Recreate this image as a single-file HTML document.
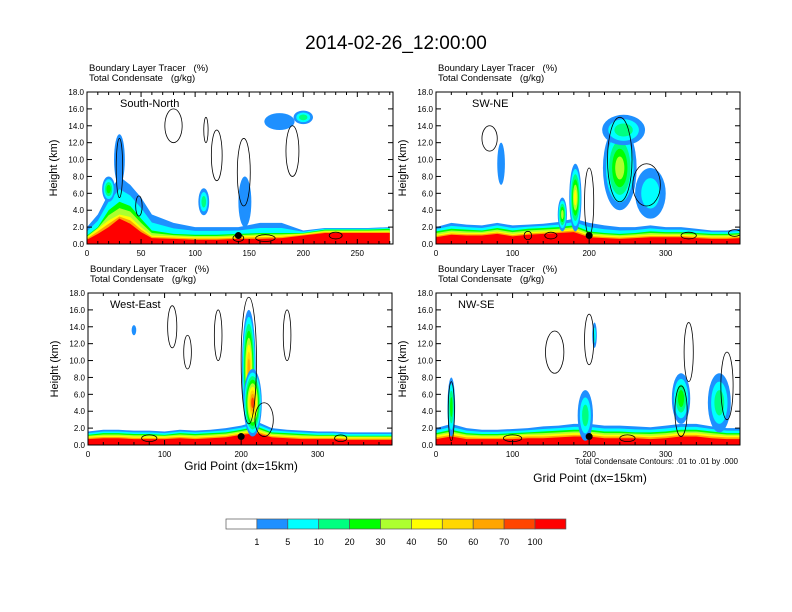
<!DOCTYPE html>
<html><head><meta charset="utf-8"><style>body{margin:0;background:#fff}svg{display:block;font-family:"Liberation Sans",sans-serif}</style></head>
<body>
<svg id="c" width="792" height="612" viewBox="0 0 792 612" xmlns="http://www.w3.org/2000/svg">
<text x="396" y="49" font-size="19" text-anchor="middle">2014-02-26_12:00:00</text>
<text x="241" y="470" font-size="12" text-anchor="middle">Grid Point (dx=15km)</text>
<text x="590" y="482" font-size="12" text-anchor="middle">Grid Point (dx=15km)</text>
<text x="738" y="464" font-size="8" text-anchor="end">Total Condensate Contours: .01 to .01 by .000</text>
</svg>
<script>
const NS="http://www.w3.org/2000/svg";
const svg=document.getElementById('c');
const COLORS=["#ffffff","#1e90ff","#00ffff","#00ff80","#00ff00","#adff2f","#ffff00","#ffd700","#ffa500","#ff4500","#ff0000"];
const LEVEL_LABELS=["1","5","10","20","30","40","50","60","70","100"];
const tlXs=[0,10,20,30,40,50,60,80,100,120,140,160,180,200,220,240,260,280];
const tlBlue=[2,3.5,6,8,7,5.5,3.5,2.5,2,2,2,2.5,2.5,1.6,1.9,1.9,1.9,2];
const tlGreen=[1,2,4,5,4.5,3,1.6,1.2,1.1,1.1,1.2,1.3,1.3,1.3,1.7,1.7,1.7,1.8];
const tlYellow=[0.8,1.8,2.8,3.5,3.2,2,1,0.9,0.8,0.8,0.9,1,1,1.2,1.5,1.5,1.5,1.5];
const tlRed=[0.5,1.2,2,3,2.4,1.4,0.7,0.6,0.5,0.5,0.6,0.6,0.7,1,1.3,1.3,1.3,1.3];
const tlPlumes=[[30,10,5,3,1],[108,5,5,1.6,3],[146,5,6,3,1],[178,14.5,14,1,1],[200,15,9,0.8,3],[20,6.5,6,1.5,4]];
const tlContours=[[80,14,8,2],[120,10.5,5,3],[145,8.5,6,4],[190,11,6,3],[110,13.5,2,1.5],[30,9,3,3.5],[48,4.5,3,1.2],[140,0.7,5,0.4],[165,0.7,9,0.4],[230,1,6,0.4]];
const trXs=[0,20,40,60,80,100,120,140,160,180,200,220,240,260,280,300,320,340,360,380,397];
const trBlue=[2,2.5,2.3,2.2,2.5,2.2,2.3,2.4,2.6,3,2.5,2.2,2,2,2.2,2,2,1.8,1.6,1.6,1.8];
const trGreen=[1.5,1.8,1.7,1.6,1.9,1.6,1.8,1.9,2,2.2,1.5,1.3,1.2,1.3,1.5,1.4,1.4,1.3,1.2,1.2,1.3];
const trYellow=[1.1,1.4,1.3,1.3,1.5,1.2,1.4,1.5,1.6,1.8,1.1,1,0.9,1,1.1,1.1,1.1,1,0.9,0.9,1];
const trRed=[0.8,1.1,1,1,1.2,0.9,1.1,1.2,1.3,1.4,0.8,0.7,0.6,0.7,0.8,0.8,0.8,0.7,0.6,0.6,0.7];
const trPlumes=[[85,9.5,5,2.5,1],[182,5.5,8,4,6],[240,9,22,5,5],[245,13.5,28,1.8,3],[280,6,20,3,2],[165,3.5,6,2,5]];
const trContours=[[70,12.5,10,1.5],[240,10,16,5],[275,7,18,2.5],[200,5,6,4],[150,1,8,0.4],[330,1,10,0.4],[390,1.3,8,0.4],[120,1,5,0.5]];
const blXs=[0,20,40,60,80,100,120,140,160,180,200,220,240,260,280,300,320,340,360,380,397];
const blBlue=[1.6,1.8,1.8,1.7,1.7,1.6,1.8,1.7,1.8,2,2.3,2.8,2,1.8,1.7,1.6,1.6,1.5,1.5,1.5,1.5];
const blGreen=[1.2,1.4,1.4,1.3,1.3,1.2,1.4,1.3,1.4,1.5,1.8,2.2,1.5,1.4,1.3,1.2,1.2,1.1,1.1,1.1,1.1];
const blYellow=[1,1.1,1.1,1,1,1,1.1,1,1.1,1.2,1.5,1.8,1.2,1.1,1,1,1,0.9,0.9,0.9,0.9];
const blRed=[0.7,0.8,0.8,0.7,0.7,0.7,0.8,0.7,0.8,0.9,1.2,1.4,0.9,0.8,0.7,0.7,0.7,0.6,0.6,0.6,0.6];
const blPlumes=[[210,9,9,7,8],[215,5,12,4,9],[60,13.6,3,0.6,1]];
const blContours=[[210,10,10,7.5],[110,14,6,2.5],[130,11,5,2],[170,13,5,3],[260,13,5,3],[230,3,12,2],[80,0.8,10,0.4],[330,0.8,8,0.4]];
const brXs=[0,20,40,60,80,100,120,140,160,180,200,220,240,260,280,300,320,340,360,380,397];
const brBlue=[2,2.5,2,1.8,1.8,1.9,2,2.2,2.3,2.5,2.5,2.3,2.3,2.2,2.1,2.3,2.5,2.5,2.2,2,2];
const brGreen=[1.4,1.8,1.4,1.3,1.3,1.4,1.5,1.6,1.7,1.8,1.8,1.6,1.6,1.5,1.5,1.6,1.8,1.8,1.6,1.4,1.4];
const brYellow=[1.1,1.4,1.1,1,1,1.1,1.2,1.2,1.3,1.4,1.4,1.2,1.2,1.2,1.1,1.2,1.4,1.4,1.2,1.1,1.1];
const brRed=[0.7,1,0.7,0.7,0.7,0.7,0.8,0.8,0.9,1,1,0.8,0.8,0.8,0.7,0.8,1,1,0.8,0.7,0.7];
const brPlumes=[[20,4.5,5,3.5,4],[195,3.5,10,3,3],[207,13,3,1.5,2],[320,5.5,12,3,4],[370,5,15,3.5,3]];
const brContours=[[155,11,12,2.5],[200,12.5,6,3],[330,11,6,3.5],[380,7,8,4],[20,4,4,3.5],[320,4,8,3],[100,0.8,12,0.4],[250,0.8,10,0.4]];

const panels=[
 {name:"south-north",x0:87,y0:92,w:306,h:152,xmax:283,major:50,minor:10,label:"South-North",lx:120,ly:107,xs:tlXs,b:tlBlue,g:tlGreen,yl:tlYellow,r:tlRed,pl:tlPlumes,ct:tlContours,dot:140},
 {name:"sw-ne",x0:436,y0:92,w:304,h:152,xmax:397,major:100,minor:20,label:"SW-NE",lx:472,ly:107,xs:trXs,b:trBlue,g:trGreen,yl:trYellow,r:trRed,pl:trPlumes,ct:trContours,dot:200},
 {name:"west-east",x0:88,y0:293,w:304,h:152,xmax:397,major:100,minor:20,label:"West-East",lx:110,ly:308,xs:blXs,b:blBlue,g:blGreen,yl:blYellow,r:blRed,pl:blPlumes,ct:blContours,dot:200},
 {name:"nw-se",x0:436,y0:293,w:304,h:152,xmax:397,major:100,minor:20,label:"NW-SE",lx:458,ly:308,xs:brXs,b:brBlue,g:brGreen,yl:brYellow,r:brRed,pl:brPlumes,ct:brContours,dot:200}
];
function mk(tag,attrs,parent){const e=document.createElementNS(NS,tag);for(const k in attrs)e.setAttribute(k,attrs[k]);(parent||svg).appendChild(e);return e;}
panels.forEach(p=>{
 const g=mk('g',{});
 
 
 const X=v=>p.x0+v/p.xmax*p.w, Y=v=>p.y0+p.h-v/18*p.h;
 const cp=mk('clipPath',{id:'cl'+p.name},g);mk('rect',{x:p.x0,y:p.y0,width:p.w,height:p.h},cp);
 const inner=mk('g',{'clip-path':'url(#cl'+p.name+')'},g);
 const mid=(a,b)=>a.map((v,i)=>(v+b[i])/2);
 const bands=[[p.b,1],[mid(p.b,p.g),2],[p.g,4],[mid(p.g,p.yl),5],[p.yl,6],[mid(p.yl,p.r),8],[p.r,10]];
 bands.forEach(([arr,ci])=>{
  let d='M'+X(0)+','+Y(0);
  p.xs.forEach((x,i)=>{d+=' L'+X(x)+','+Y(arr[i]);});
  d+=' L'+X(p.xs[p.xs.length-1])+','+Y(0)+'Z';
  const e=mk('path',{d:d,fill:COLORS[ci]},inner);
  
  
 });
 p.pl.forEach(pl=>{
  const [cx,cy,rx,ry,lv]=pl;
  for(let k=1;k<=lv;k++){
   const s=1-(k-1)/(lv+0.5);
   const e=mk('ellipse',{cx:X(cx),cy:Y(cy),rx:rx/p.xmax*p.w*s,ry:ry/18*p.h*s,fill:COLORS[k]},inner);
   
   
  }
 });
 p.ct.forEach(c=>{
  const e=mk('ellipse',{cx:X(c[0]),cy:Y(c[1]),rx:c[2]/p.xmax*p.w,ry:c[3]/18*p.h,fill:'none',stroke:'#000','stroke-width':0.8},inner);
  
  
 });
 const dot=mk('circle',{cx:X(p.dot),cy:Y(1),r:3.5,fill:'#000'},inner);
 
 
 mk('rect',{x:p.x0,y:p.y0,width:p.w,height:p.h,fill:'none',stroke:'#000','stroke-width':1},g);
 for(let v=0;v<=18;v+=2){
  const y=Y(v);
  mk('line',{x1:p.x0,x2:p.x0+5,y1:y,y2:y,stroke:'#000'},g);
  mk('line',{x1:p.x0+p.w,x2:p.x0+p.w-5,y1:y,y2:y,stroke:'#000'},g);
  const t=mk('text',{x:p.x0-3,y:y+3,'font-size':8,'text-anchor':'end'},g);t.textContent=v.toFixed(1);
  
  
 }
 for(let v=0;v<=p.xmax;v+=p.minor){
  const x=X(v),maj=v%p.major===0,L=maj?5:3;
  mk('line',{x1:x,x2:x,y1:p.y0+p.h,y2:p.y0+p.h-L,stroke:'#000'},g);
  mk('line',{x1:x,x2:x,y1:p.y0,y2:p.y0+L,stroke:'#000'},g);
  if(maj){const t=mk('text',{x:x,y:p.y0+p.h+12,'font-size':8,'text-anchor':'middle'},g);t.textContent=v;
   
   }
 }
 const yl=mk('text',{x:p.x0-30,y:p.y0+p.h/2,'font-size':11,'text-anchor':'middle',transform:`rotate(-90 ${p.x0-30} ${p.y0+p.h/2})`},g);yl.textContent='Height (km)';
 
 
 const h1=mk('text',{x:p.x0+2,y:p.y0-21,'font-size':9.5},g);h1.textContent='Boundary Layer Tracer\u00a0\u00a0\u00a0(%)';
 
 
 const h2=mk('text',{x:p.x0+2,y:p.y0-11,'font-size':9.5},g);h2.textContent='Total Condensate\u00a0\u00a0\u00a0(g/kg)';
 
 
 const lb=mk('text',{x:p.lx,y:p.ly,'font-size':11},g);lb.textContent=p.label;
 
 
});
const cb=mk('g',{});


const bx=226,bw=30.9;
COLORS.forEach((c,i)=>{
 const r=mk('rect',{x:bx+i*bw,y:519,width:bw,height:10,fill:c,stroke:'#555','stroke-width':0.7},cb);
 
 
});
LEVEL_LABELS.forEach((l,i)=>{
 const t=mk('text',{x:bx+(i+1)*bw,y:545,'font-size':9,'text-anchor':'middle'},cb);t.textContent=l;
 
 
});
</script>
</body></html>
